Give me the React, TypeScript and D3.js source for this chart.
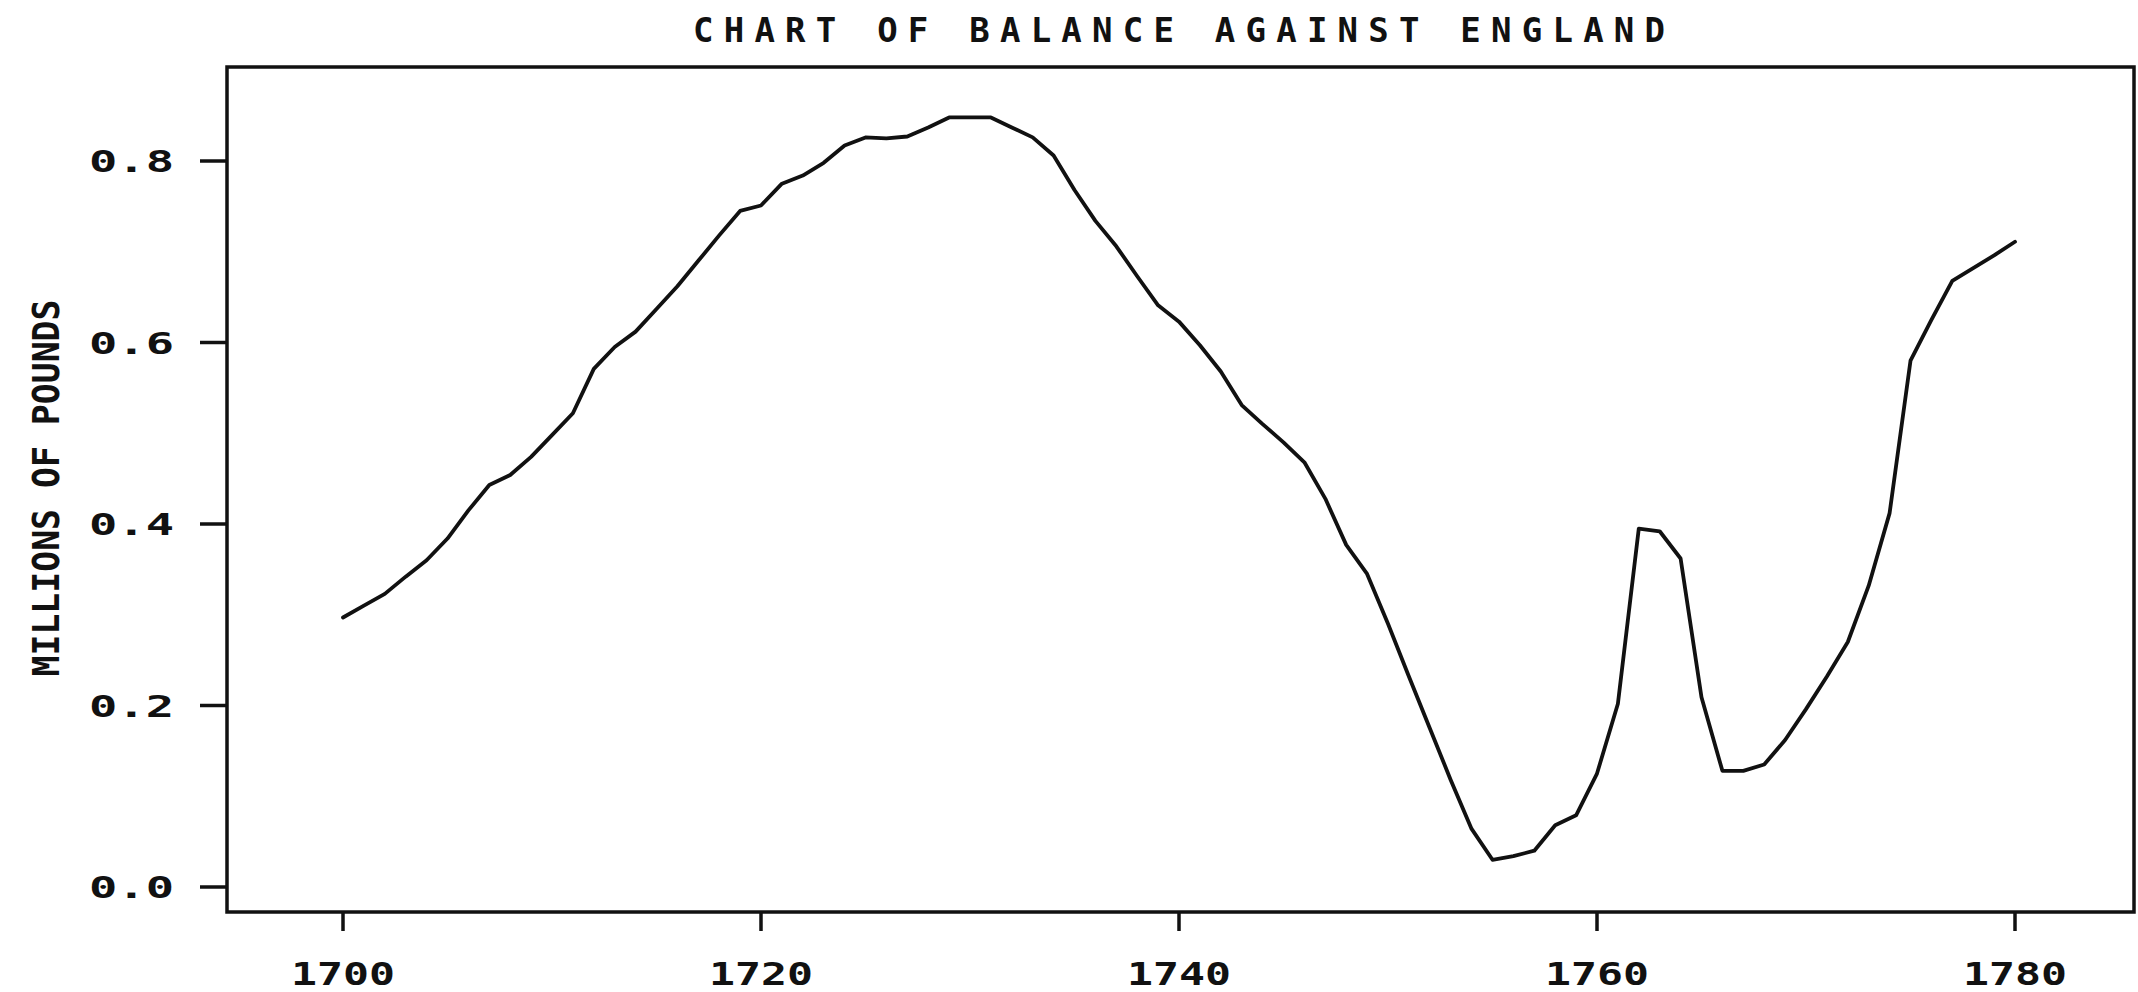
import React from "react";
import * as d3 from "d3";

const years: number[] = d3.range(1700, 1781);
const balance: number[] = [
  0.297, 0.310, 0.323, 0.342, 0.360, 0.384, 0.415, 0.443, 0.454, 0.474,
  0.498, 0.522, 0.571, 0.595, 0.612, 0.637, 0.662, 0.690, 0.718, 0.745,
  0.751, 0.775, 0.784, 0.798, 0.817, 0.826, 0.825, 0.827, 0.837, 0.848,
  0.848, 0.848, 0.837, 0.826, 0.806, 0.768, 0.734, 0.706, 0.673, 0.641,
  0.623, 0.597, 0.568, 0.531, 0.510, 0.490, 0.468, 0.428, 0.377, 0.345,
  0.290, 0.232, 0.175, 0.118, 0.064, 0.030, 0.034, 0.040, 0.068, 0.079,
  0.125, 0.202, 0.395, 0.392, 0.362, 0.209, 0.128, 0.128, 0.135, 0.162,
  0.196, 0.232, 0.270, 0.332, 0.412, 0.580, 0.625, 0.668, 0.682, 0.696,
  0.711,
];
const xTicks: number[] = [1700, 1720, 1740, 1760, 1780];
const yTicks: number[] = [0, 0.2, 0.4, 0.6, 0.8];
const yTickLabels: string[] = ["0.0", "0.2", "0.4", "0.6", "0.8"];
const title = "CHART OF BALANCE AGAINST ENGLAND";
const yTitle = "MILLIONS OF POUNDS";

const W = 2138;
const H = 992;
const frame = { left: 227, right: 2134, top: 67, bottom: 912 };
const FONT = "'DejaVu Sans Mono', 'Liberation Mono', monospace";

export default function App() {
  const x = d3.scaleLinear().domain([1700, 1780]).range([343, 2015]);
  const y = d3.scaleLinear().domain([0, 0.8]).range([887, 161]);
  const pts: [number, number][] = years.map((yr, i) => [yr, balance[i]]);
  const line = d3
    .line<[number, number]>()
    .x((d) => x(d[0]))
    .y((d) => y(d[1]));

  return (
    <svg
      width={W}
      height={H}
      style={{ position: "absolute", left: 0, top: 0, background: "#fff" }}
    >
      <rect x={0} y={0} width={W} height={H} fill="#fff" />
      <text
        x={1179}
        y={42}
        textAnchor="middle"
        fontFamily={FONT}
        fontWeight="bold"
        fontSize={34}
        textLength={972}
        lengthAdjust="spacing"
        fill="#111"
      >
        {title}
      </text>
      <rect
        x={frame.left}
        y={frame.top}
        width={frame.right - frame.left}
        height={frame.bottom - frame.top}
        fill="none"
        stroke="#111"
        strokeWidth={3.5}
      />
      {yTicks.map((t, i) => (
        <g key={"y" + t}>
          <line
            x1={frame.left - 27}
            x2={frame.left}
            y1={y(t)}
            y2={y(t)}
            stroke="#111"
            strokeWidth={3.5}
          />
          <text
            x={174}
            y={y(t) + 11}
            textAnchor="end"
            fontFamily={FONT}
            fontWeight="bold"
            fontSize={31}
            textLength={85}
            lengthAdjust="spacingAndGlyphs"
            fill="#111"
          >
            {yTickLabels[i]}
          </text>
        </g>
      ))}
      {xTicks.map((t) => (
        <g key={"x" + t}>
          <line
            x1={x(t)}
            x2={x(t)}
            y1={frame.bottom}
            y2={frame.bottom + 19}
            stroke="#111"
            strokeWidth={3.5}
          />
          <text
            x={x(t)}
            y={985}
            textAnchor="middle"
            fontFamily={FONT}
            fontWeight="bold"
            fontSize={32}
            textLength={104}
            lengthAdjust="spacingAndGlyphs"
            fill="#111"
          >
            {t}
          </text>
        </g>
      ))}
      <text
        transform="translate(59,488) rotate(-90)"
        textAnchor="middle"
        fontFamily={FONT}
        fontWeight="bold"
        fontSize={38}
        textLength={377}
        lengthAdjust="spacingAndGlyphs"
        fill="#111"
      >
        {yTitle}
      </text>
      <path
        d={line(pts) || ""}
        fill="none"
        stroke="#111"
        strokeWidth={3.8}
        strokeLinejoin="round"
        strokeLinecap="round"
      />
    </svg>
  );
}
